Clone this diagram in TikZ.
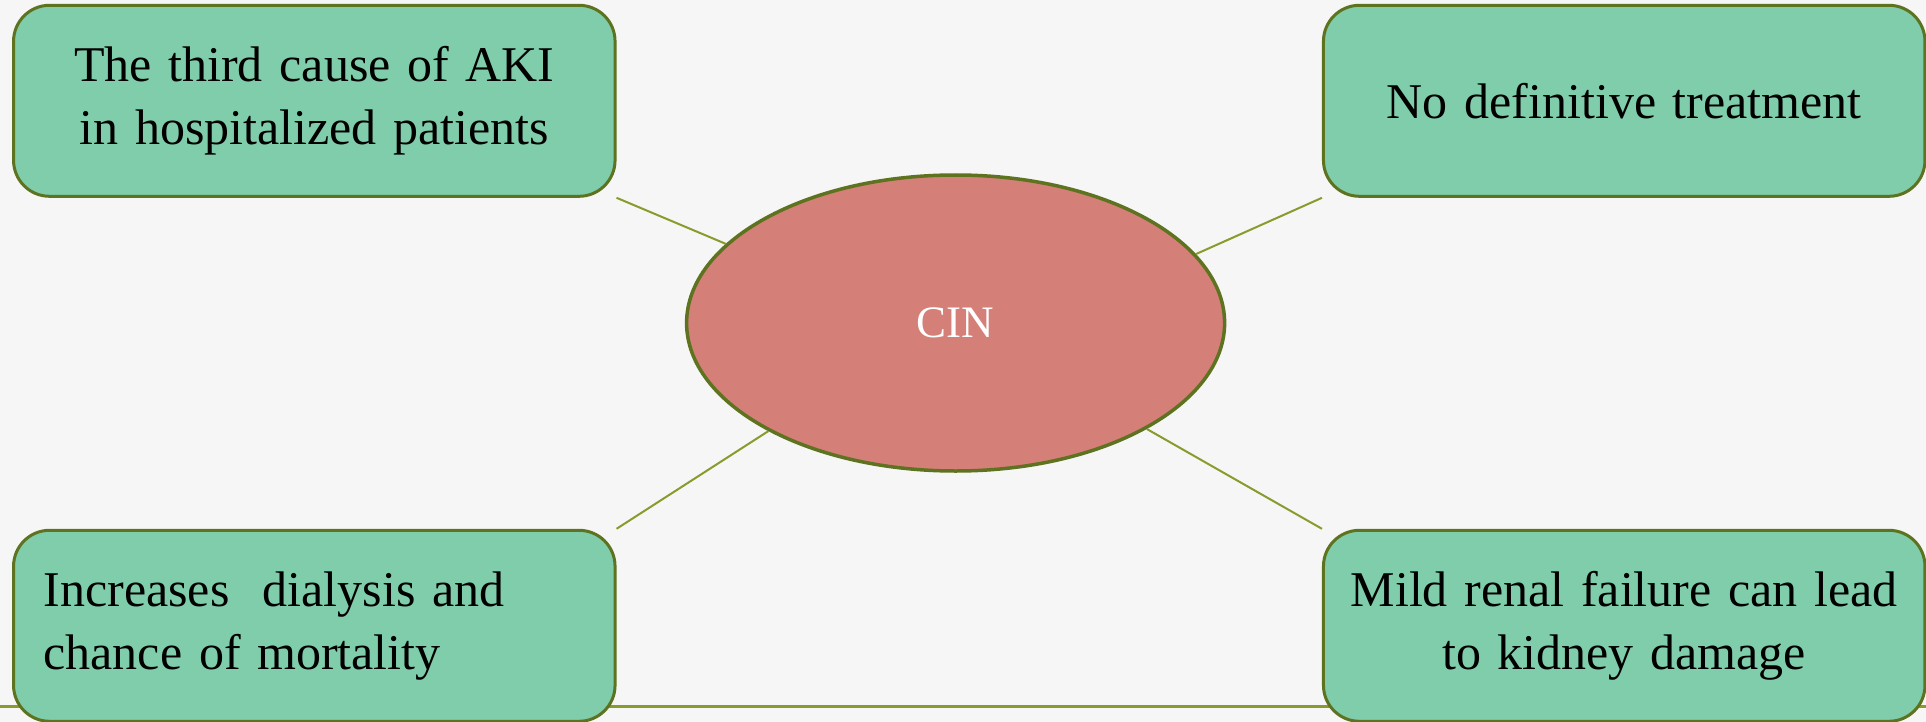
\documentclass[tikz,border=0pt]{standalone}
\usepackage{fontspec}
\setmainfont{Liberation Serif}
\usetikzlibrary{shapes.geometric}
\definecolor{boxfill}{HTML}{7FCDAB}
\definecolor{boxline}{HTML}{5E7320}
\definecolor{ellfill}{HTML}{D47F78}
\definecolor{conn}{HTML}{8A9B2E}
\definecolor{bg}{HTML}{F6F6F6}
\begin{document}
\begin{tikzpicture}[x=1pt,y=-1pt,
  infobox/.style={draw=boxline, line width=3pt, fill=boxfill, rounded corners=36pt,
    minimum width=601.5pt, minimum height=191pt, inner ysep=0pt,
    font=\fontsize{50}{63}\selectfont, text=black},
  centre/.style={align=center, inner xsep=8pt, text width=585pt},
  leftal/.style={align=left, inner xsep=30pt, text width=541.5pt},
  hub/.style={ellipse, draw=boxline, line width=3.5pt, fill=ellfill, minimum width=538pt,
    minimum height=296pt, inner sep=0pt, text=white, font=\fontsize{45}{52}\selectfont},
  link/.style={draw=conn, line width=2pt},
  rule/.style={draw=conn, line width=3pt}]
\fill[bg] (0,0) rectangle (1926,722);
\useasboundingbox (0,0) rectangle (1926,722);
\coordinate (rl) at (0,706);
\coordinate (rr) at (1926,706);
\draw[rule] (rl) -- (rr);
\node[hub] (cin) at (955.6,323) {CIN};
\node[infobox, centre] (tl) at (314.3,100.8) {The third cause of AKI\\in hospitalized patients};
\node[infobox, centre] (tr) at (1624.2,100.8) {No definitive treatment};
\node[infobox, leftal] (bl) at (314.3,625.8) {Increases\ \ dialysis and\\chance of mortality};
\node[infobox, centre] (br) at (1624.2,625.8) {Mild renal failure can lead\\to kidney damage};
\draw[link] (tl.south east) -- (cin.161.6);
\draw[link] (tr.south west) -- (cin.16.1);
\draw[link] (bl.north east) -- (cin.210.6);
\draw[link] (br.north west) -- (cin.331.1);
\end{tikzpicture}
\end{document}
